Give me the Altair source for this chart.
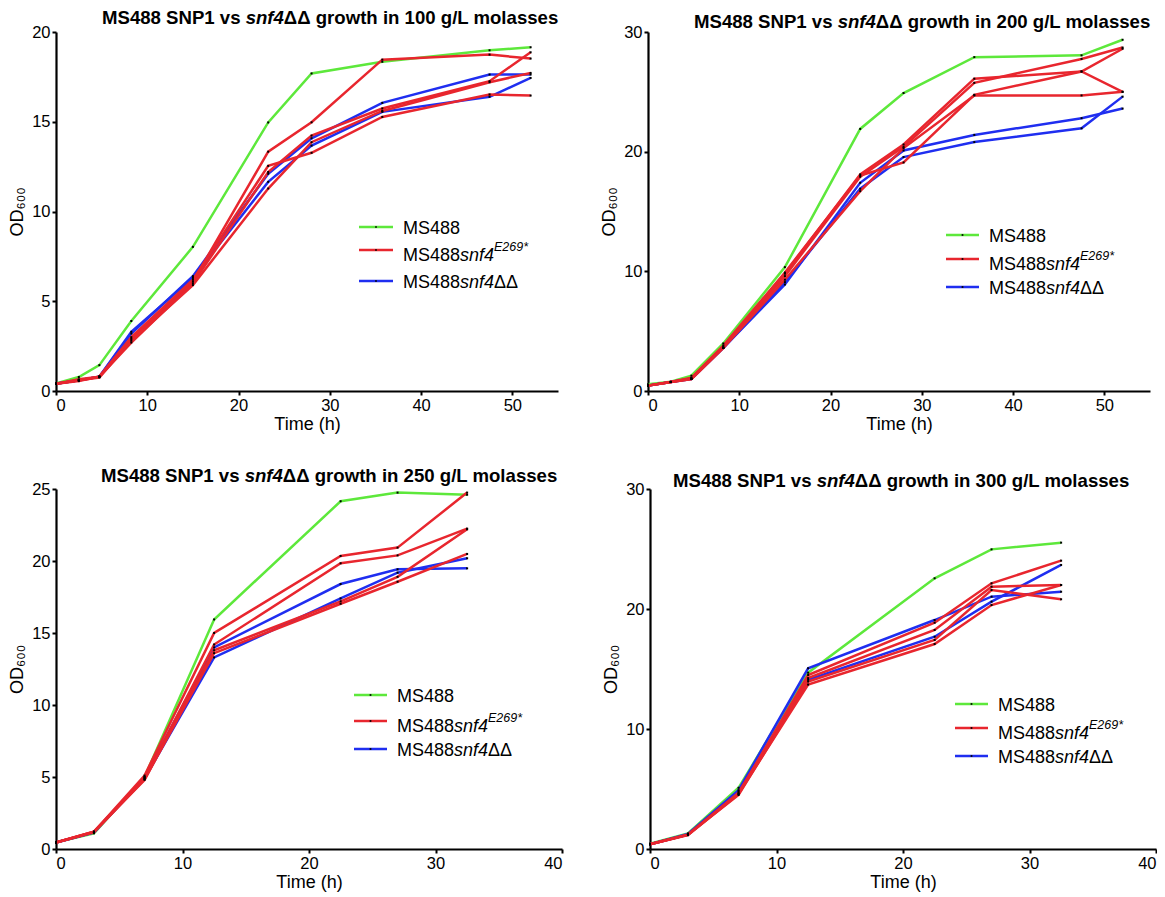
import altair as alt
import pandas as pd

FONT = "Liberation Sans, Arial, Helvetica, sans-serif"
GREEN = "#5DE83B"
RED = "#E8262E"
BLUE = "#1F2EF0"

# ---------------- data ----------------
time_long = [0, 2.5, 4.75, 8.25, 15, 23.25, 28, 35.75, 47.5, 52]
time_short = [0, 3, 7, 12.5, 22.5, 27, 32.5]

# 100 g/L molasses
wt_100 = [0.42, 0.78, 1.44, 3.9, 8.03, 14.96, 17.69, 18.34, 18.98, 19.15]
e269_100 = [
    [0.40, 0.60, 0.80, 2.9, 6.1, 13.33, 14.97, 18.46, 18.74, 18.52],
    [0.40, 0.55, 0.80, 2.7, 6.0, 12.2, 14.23, 15.74, 17.26, 18.87],
    [0.40, 0.60, 0.75, 2.8, 5.9, 11.28, 13.86, 15.6, 17.2, 17.72],
    [0.40, 0.65, 0.80, 3.0, 6.2, 12.54, 13.27, 15.27, 16.52, 16.46],
]
dd_100 = [
    [0.40, 0.60, 0.80, 3.2, 6.4, 12.1, 14.08, 16.05, 17.63, 17.63],
    [0.40, 0.60, 0.80, 3.3, 6.3, 11.65, 13.67, 15.55, 16.39, 17.44],
]

# 200 g/L molasses
wt_200 = [0.56, 0.78, 1.28, 3.97, 10.35, 21.9, 24.9, 27.9, 28.05, 29.35]
e269_200 = [
    [0.45, 0.75, 1.05, 3.7, 9.8, 18.1, 20.6, 26.1, 26.7, 25.0],
    [0.45, 0.75, 1.00, 3.6, 9.6, 17.9, 20.4, 25.75, 27.75, 28.7],
    [0.45, 0.75, 1.10, 3.8, 9.9, 18.0, 19.1, 24.75, 26.7, 28.6],
    [0.45, 0.75, 1.00, 3.6, 9.3, 16.7, 20.3, 24.7, 24.7, 25.0],
]
dd_200 = [
    [0.45, 0.75, 1.05, 3.6, 8.9, 17.4, 20.1, 21.4, 22.8, 23.6],
    [0.45, 0.75, 1.00, 3.6, 9.1, 16.9, 19.55, 20.8, 21.95, 24.6],
]

# 250 g/L molasses
wt_250 = [0.46, 1.09, 5.0, 15.94, 24.15, 24.75, 24.6]
e269_250 = [
    [0.45, 1.20, 5.1, 15.0, 20.35, 20.93, 24.75],
    [0.45, 1.20, 4.9, 14.2, 19.84, 20.39, 22.25],
    [0.45, 1.20, 4.8, 13.8, 17.2, 18.9, 22.2],
    [0.45, 1.15, 4.85, 13.6, 17.03, 18.56, 20.49],
]
dd_250 = [
    [0.45, 1.15, 5.0, 14.0, 18.4, 19.42, 19.49],
    [0.45, 1.15, 4.9, 13.3, 17.4, 19.19, 20.19],
]

# 300 g/L molasses
wt_300 = [0.45, 1.3, 5.1, 14.69, 22.56, 24.97, 25.53]
e269_300 = [
    [0.40, 1.20, 4.6, 14.5, 18.86, 22.14, 24.03],
    [0.40, 1.20, 4.7, 14.24, 18.25, 21.86, 22.0],
    [0.40, 1.20, 4.5, 13.96, 17.42, 21.58, 20.81],
    [0.40, 1.15, 4.6, 13.7, 17.08, 20.33, 22.0],
]
dd_300 = [
    [0.40, 1.25, 4.9, 15.06, 19.08, 21.03, 21.44],
    [0.40, 1.20, 4.8, 14.1, 17.69, 20.61, 23.67],
]

concentrations = ["100", "200", "250", "300"]


def frame(times, wt, e269, dd):
    rows = []
    for t, v in zip(times, wt):
        rows.append({"time": t, "od": v, "grp": "wt", "rep": "wt"})
    for i, ser in enumerate(e269):
        for t, v in zip(times, ser):
            rows.append({"time": t, "od": v, "grp": "e269", "rep": f"e{i}"})
    for i, ser in enumerate(dd):
        for t, v in zip(times, ser):
            rows.append({"time": t, "od": v, "grp": "dd", "rep": f"d{i}"})
    return pd.DataFrame(rows)


ONE = alt.Data(values=[{"k": 1}])


def txt(s, x, y, size=18, weight="normal", style="normal", opacity=1):
    return alt.Chart(ONE).mark_text(
        text=s, font=FONT, fontSize=size, fontWeight=weight, fontStyle=style,
        align="left", baseline="alphabetic", color="black", opacity=opacity
    ).encode(x=alt.value(x), y=alt.value(y))


def legend(x1, x2, xt, ys):
    parts = []
    for color, yc in zip([GREEN, RED, BLUE], ys):
        parts.append(alt.Chart(ONE).mark_rule(color=color, strokeWidth=2.5).encode(
            x=alt.value(x1), x2=alt.value(x2), y=alt.value(yc)))
        parts.append(alt.Chart(ONE).mark_point(shape="square", filled=True, size=3,
                                               color="black", opacity=1).encode(
            x=alt.value((x1 + x2) / 2), y=alt.value(yc)))
    b0 = ys[0] + 6.5
    b1 = ys[1] + 10.5
    b2 = ys[2] + 6.5
    parts.append(txt("MS488", xt, b0))
    parts.append(txt("MS488", xt, b1))
    parts.append(txt("snf4", xt + 57, b1, style="italic"))
    parts.append(txt("E269*", xt + 91, b1 - 10, size=12.5, style="italic"))
    parts.append(txt("MS488", xt, b2))
    parts.append(txt("snf4", xt + 57, b2, style="italic"))
    parts.append(txt("ΔΔ", xt + 91, b2))
    return parts


TS = 18.6  # title font size


def title(conc, x0, yc):
    b = yc + 6.7
    k = TS / 18.0
    return [
        txt("MS488 SNP1 vs", x0, b, size=TS, weight="bold"),
        txt("snf4", x0 + 139 * k, b, size=TS, weight="bold", style="italic"),
        txt(f"ΔΔ growth in {conc} g/L molasses", x0 + 176 * k, b, size=TS, weight="bold"),
        txt("MS488", 0, -8.3, size=TS, weight="bold", opacity=0),  # keeps panel tops aligned
    ]


def panel(df, W, H, xdom, xticks, ydom, yticks, conc, tx, ty, leg):
    x = alt.X("time:Q", scale=alt.Scale(domain=xdom, nice=False),
              axis=alt.Axis(values=xticks, title="Time (h)", format="d"))
    y = alt.Y("od:Q", scale=alt.Scale(domain=ydom, nice=False),
              axis=alt.Axis(values=yticks, title="OD₆₀₀", format="d"))
    base = alt.Chart(df)
    layers = []
    for g, c in [("wt", GREEN), ("dd", BLUE), ("e269", RED)]:
        layers.append(base.transform_filter(alt.datum.grp == g).mark_line(
            color=c, strokeWidth=2.5).encode(x=x, y=y, detail="rep:N"))
    layers.append(base.mark_point(shape="square", filled=True, size=4, color="black",
                                  opacity=1).encode(x=x, y=y))
    layers += title(conc, tx, ty)
    layers += legend(*leg)
    return alt.layer(*layers).properties(width=W, height=H)


p1 = panel(frame(time_long, wt_100, e269_100, dd_100), 502, 359, [0, 55],
           [0, 10, 20, 30, 40, 50], [0, 20], [0, 5, 10, 15, 20], concentrations[0],
           46, -15, (303, 337, 347, [195, 218, 249]))
p2 = panel(frame(time_long, wt_200, e269_200, dd_200), 502, 359, [0, 55],
           [0, 10, 20, 30, 40, 50], [0, 30], [0, 10, 20, 30], concentrations[1],
           46, -11, (298, 331, 341, [203, 227, 255]))
p3 = panel(frame(time_short, wt_250, e269_250, dd_250), 506, 360, [0, 40],
           [0, 10, 20, 30, 40], [0, 25], [0, 5, 10, 15, 20, 25], concentrations[2],
           45, -14, (298, 331, 341, [206, 232, 260]))
p4 = panel(frame(time_short, wt_300, e269_300, dd_300), 506, 360, [0, 40],
           [0, 10, 20, 30, 40], [0, 30], [0, 10, 20, 30], concentrations[3],
           23, -9, (305, 338, 348, [215, 239, 267]))

chart = alt.vconcat(
    alt.hconcat(p1, p2, spacing=41),
    alt.hconcat(p3, p4, spacing=39),
    spacing=31,
).properties(padding=0, background="white").configure_view(stroke=None).configure_axis(
    domainColor="black", domainWidth=2.2, tickColor="black", tickWidth=2, tickSize=4,
    labelFont=FONT, labelFontSize=16.5, labelColor="black", labelPadding=2,
    titleFont=FONT, titleFontSize=18, titleFontWeight="normal", titleColor="black",
    grid=False,
).configure_axisX(titlePadding=2).configure_axisY(titlePadding=5.5)

chart.save("out.html", embed_options={"renderer": "svg", "actions": False})
